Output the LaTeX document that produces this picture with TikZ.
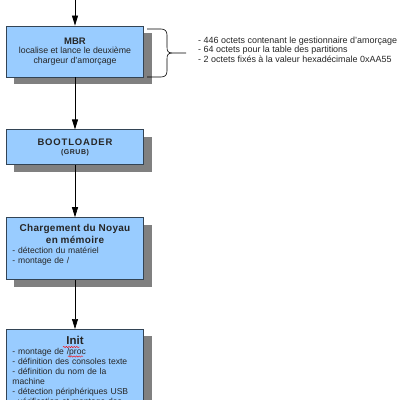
\documentclass[tikz,border=0pt]{standalone}
\usepackage{fontspec}
\setmainfont{Liberation Sans}
\usetikzlibrary{arrows.meta}
\usetikzlibrary{positioning}
\usetikzlibrary{shadows}
\usetikzlibrary{decorations.pathmorphing}
\definecolor{boxblue}{RGB}{153, 204, 255}
\definecolor{boxline}{RGB}{51, 68, 85}
\definecolor{shadowgray}{RGB}{128, 128, 128}
\tikzset{stage/.style = {draw = boxline, fill = boxblue, line width = 0.8bp, minimum width = 137bp, inner sep = 3bp, text = black!85, font = \fontsize{8.8}{9.5}\selectfont, drop shadow = {shadow xshift = 8bp, shadow yshift = -7bp, fill = shadowgray, opacity = 1}}}
\tikzset{flow/.style = {-{Triangle[length = 10bp, width = 6bp]}, line width = 0.7bp}}
\tikzset{spell/.style = {red, line width = 0.4bp, decorate, decoration = {snake, amplitude = 0.7bp, segment length = 2.6bp}}}
\newcommand\tracked[2]{{\addfontfeature{LetterSpace=#1}#2}}

\begin{document}
\begin{tikzpicture}[x = 1bp, y = 1bp]
  \useasboundingbox (0, 0) rectangle (400, -400);

  \node [stage, minimum height = 51bp, align = center] (mbr) at (75, -51.5) {{\fontsize{9.5}{12}\selectfont\bfseries MBR}\\localise et lance le deuxième\\chargeur d'amorçage};
  \node [stage, minimum height = 35bp, align = center, below = 52bp of mbr] (boot) {{\fontsize{9.5}{10.5}\selectfont\bfseries\tracked{9}{BOOTLOADER}}\\{\fontsize{7}{9}\selectfont\bfseries\tracked{8}{(GRUB)}}};
  \node [stage, minimum height = 62bp, inner xsep = 6bp, text width = 125bp, align = left, font = \fontsize{8.6}{10}\selectfont, below = 52bp of boot] (kernel) {{\centering\fontsize{10}{12}\selectfont\bfseries\tracked{3}{Chargement du Noyau}\\\tracked{3}{en mémoire}\par}- détection du matériel\\- montage de /\par\vspace{7bp}};
  \node [stage, inner xsep = 6bp, inner ysep = 7bp, text width = 125bp, align = left, font = \fontsize{8.6}{10}\selectfont, below = 49bp of kernel] (init) {{\centering\fontsize{11.5}{13}\selectfont\bfseries Init\par}- montage de /proc\\- définition des consoles texte\\- définition du nom de la\\machine\\- détection périphériques USB\\- vérification et montage des};

  \node [anchor = west, align = left, inner sep = 0, text = black!85, font = \fontsize{9}{9.5}\selectfont] (notes) at (198, -49.5) {- 446 octets contenant le gestionnaire d'amorçage\\- 64 octets pour la table des partitions\\- 2 octets fixés à la valeur hexadécimale 0xAA55};

  % arrows between the stages
  \coordinate (entry) at (mbr.north |- 0, 0);
  \draw [flow] (entry) -- (mbr);
  \draw [flow] (mbr) -- (boot);
  \draw [flow] (boot) -- (kernel);
  \draw [flow] (kernel) -- (init);

  % brace towards the notes
  \draw [line width = 0.6bp] (147, -29) -- (161, -29) .. controls (165, -29) and (167, -31) .. (167, -35) -- (167, -47) .. controls (167, -51) and (168, -53) .. (172, -53) -- (186, -53);
  \draw [line width = 0.6bp] (147, -77) -- (161, -77) .. controls (165, -77) and (167, -75) .. (167, -71) -- (167, -59) .. controls (167, -55) and (168, -53) .. (172, -53);

  % spell check marks
  \draw [spell] (63, -347) -- (80, -347);
  \draw [spell] (68, -356.5) -- (83, -356.5);
\end{tikzpicture}
\end{document}
